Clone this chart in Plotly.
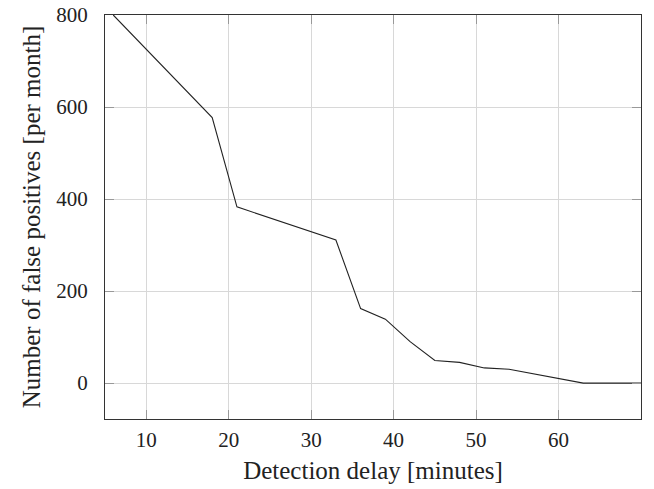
import plotly.graph_objects as go

delay_minutes = [6, 9, 12, 15, 18, 21, 24, 27, 30, 33, 36, 39, 42, 45, 48, 51, 54, 57, 60, 63, 66, 70]
false_positives = [800, 744, 688, 633, 577, 383, 365, 347, 329, 311, 162, 139, 90, 49, 45, 33, 30, 20, 10, 0, 0, 0]

x_ticks = [10, 20, 30, 40, 50, 60]
y_ticks = [0, 200, 400, 600, 800]

font_family = "Liberation Serif"

fig = go.Figure()
fig.add_trace(go.Scatter(
    x=delay_minutes, y=false_positives, mode="lines",
    line=dict(color="#222222", width=1.1), showlegend=False,
))

axis_common = dict(
    showline=True, linecolor="#333333", linewidth=1, mirror="ticks",
    ticks="inside", ticklen=9, tickcolor="#999999", tickwidth=1,
    showgrid=True, gridcolor="#d8d8d8", gridwidth=1, zeroline=False,
    tickfont=dict(family=font_family, size=21, color="#222222"),
    ticklabeloverflow="allow",
    automargin=False,
)

fig.update_xaxes(
    range=[5, 70], tickvals=x_ticks, ticktext=[str(v) for v in x_ticks],
    title=dict(text="Detection delay [minutes]", font=dict(family=font_family, size=25, color="#222222"), standoff=10),
    ticklabelstandoff=2,
    **axis_common,
)
fig.update_yaxes(
    range=[-78, 800], tickvals=y_ticks, ticktext=[str(v) for v in y_ticks],
    title=dict(text="Number of false positives [per month]", font=dict(family=font_family, size=25, color="#222222"), standoff=8),
    ticklabelstandoff=12,
    **axis_common,
)

fig.update_layout(
    width=654, height=489,
    margin=dict(l=105, r=13, t=15, b=70),
    paper_bgcolor="white", plot_bgcolor="white",
)

# remove the default 8px page margin so the figure fills the window
fig.write_html(
    "out.html",
    config={"displayModeBar": False},
    post_script="document.body.style.margin='0';",
)
